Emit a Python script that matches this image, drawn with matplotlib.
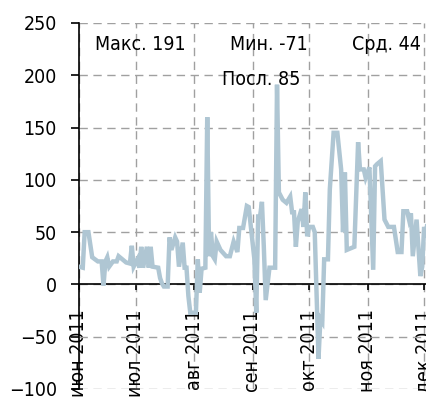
import matplotlib
matplotlib.use("Agg")
import matplotlib.pyplot as plt
import pandas as pd

# polyline vertices (date, value)
dates = [
    "2011-06-01", "2011-06-03", "2011-06-04", "2011-06-06", "2011-06-08", "2011-06-11",
    "2011-06-13", "2011-06-14", "2011-06-15", "2011-06-16", "2011-06-17", "2011-06-19",
    "2011-06-21", "2011-06-22", "2011-06-24", "2011-06-26", "2011-06-28", "2011-06-29",
    "2011-06-30", "2011-07-02", "2011-07-03", "2011-07-04", "2011-07-05", "2011-07-07",
    "2011-07-08", "2011-07-09", "2011-07-10", "2011-07-13", "2011-07-14", "2011-07-15",
    "2011-07-16", "2011-07-18", "2011-07-19", "2011-07-20", "2011-07-22", "2011-07-23",
    "2011-07-24", "2011-07-26", "2011-07-27", "2011-07-28", "2011-07-29", "2011-07-30",
    "2011-08-02", "2011-08-03", "2011-08-04", "2011-08-05", "2011-08-07", "2011-08-08",
    "2011-08-09", "2011-08-10", "2011-08-11", "2011-08-12", "2011-08-13", "2011-08-15",
    "2011-08-18", "2011-08-20", "2011-08-22", "2011-08-24", "2011-08-25", "2011-08-27",
    "2011-08-29", "2011-08-30", "2011-09-02", "2011-09-03", "2011-09-04", "2011-09-05",
    "2011-09-06", "2011-09-07", "2011-09-08", "2011-09-10", "2011-09-13", "2011-09-14",
    "2011-09-15", "2011-09-17", "2011-09-19", "2011-09-21", "2011-09-22", "2011-09-23",
    "2011-09-24", "2011-09-25", "2011-09-27", "2011-09-28", "2011-09-29", "2011-09-30",
    "2011-10-01", "2011-10-03", "2011-10-04", "2011-10-06", "2011-10-07", "2011-10-08",
    "2011-10-09", "2011-10-11", "2011-10-12", "2011-10-14", "2011-10-16", "2011-10-18",
    "2011-10-19", "2011-10-20", "2011-10-21", "2011-10-25", "2011-10-27", "2011-10-28",
    "2011-10-30", "2011-10-31", "2011-11-02", "2011-11-04", "2011-11-05", "2011-11-06",
    "2011-11-08", "2011-11-10", "2011-11-12", "2011-11-15", "2011-11-17", "2011-11-19",
    "2011-11-20", "2011-11-22", "2011-11-23", "2011-11-24", "2011-11-25", "2011-11-27",
    "2011-11-29", "2011-11-30", "2011-12-01", "2011-12-02", "2011-12-04",
]
values = [
    17, 16, 50, 50, 26, 22,
    22, -1, 22, 26, 17, 22,
    22, 27, 24, 21, 20, 37,
    17, 24, 16, 36, 16, 36,
    16, 36, 17, 16, 6, 1,
    -2, -2, 45, 33, 45, 41,
    17, 40, 16, 16, -11, -27,
    -27, 24, -8, 15, 16, 160,
    27, 50, 27, 24, 41, 33,
    27, 27, 41, 31, 54, 54,
    75, 74, 24, -27, 65, 65,
    79, 36, -15, 16, 16, 191,
    88, 81, 78, 84, 69, 69,
    36, 60, 72, 55, 88, 46,
    55, 55, 50, -71, -33, -36,
    24, 24, 91, 145, 145, 110,
    50, 107, 33, 36, 136, 110,
    110, 102, 112, 14, 113, 115,
    118, 62, 55, 55, 31, 31,
    70, 70, 62, 68, 27, 62,
    8, 17, 55, 45, 85,
]

month_labels = ["июн 2011", "июл 2011", "авг 2011", "сен 2011",
                "окт 2011", "ноя 2011", "дек 2011"]
month_ticks = ["2011-06-01", "2011-07-01", "2011-08-01", "2011-09-01",
               "2011-10-01", "2011-11-01", "2011-12-01"]

stat_max, stat_min, stat_avg, stat_last = 191, -71, 44, 85

plt.rcParams["font.family"] = ["DejaVu Sans"]
plt.rcParams["font.stretch"] = "condensed"
plt.rcParams["font.size"] = 14

x = pd.to_datetime(dates)

fig = plt.figure(figsize=(4.26, 4.0), dpi=100)
ax = fig.add_axes([79 / 426, 11 / 400, 1 - 79 / 426, 366 / 400])

ax.plot(x, values, color="#afc6d3", linewidth=3.2, solid_joinstyle="miter", zorder=3)

ax.set_ylim(-100, 250)
ax.set_xlim(pd.Timestamp("2011-06-01"), pd.Timestamp("2011-12-02"))
ax.set_yticks(range(-100, 251, 50))
ax.set_xticks(pd.to_datetime(month_ticks), month_labels)
ax.tick_params(axis="x", labelrotation=90)

ax.spines["top"].set_visible(False)
ax.spines["right"].set_visible(False)
ax.spines["bottom"].set_position(("data", 0))
ax.spines["left"].set_linewidth(1.2)
ax.spines["bottom"].set_linewidth(1.2)

ax.tick_params(axis="y", direction="out", length=6, width=1.2, pad=10)
ax.tick_params(axis="x", direction="out", length=4, width=1.2, pad=14)

ax.grid(True, color="#a0a0a0", linestyle=(0, (6, 4)), linewidth=1.0, zorder=0)
ax.set_axisbelow(True)

ax.text(0.176, 0.94, f"Макс. {stat_max}", transform=ax.transAxes,
        ha="center", va="center")
ax.text(0.548, 0.94, f"Мин. {stat_min}", transform=ax.transAxes,
        ha="center", va="center")
ax.text(0.885, 0.94, f"Срд. {stat_avg}", transform=ax.transAxes,
        ha="center", va="center")
ax.text(0.525, 0.845, f"Посл. {stat_last}", transform=ax.transAxes,
        ha="center", va="center")

fig.savefig("out.png", dpi=100)
